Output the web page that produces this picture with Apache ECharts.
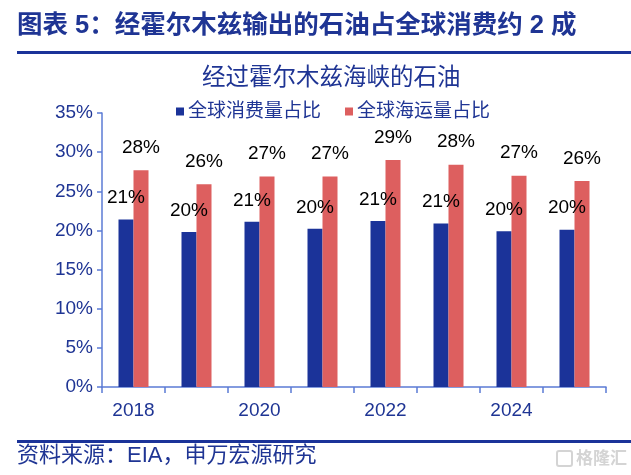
<!DOCTYPE html>
<html>
<head>
<meta charset="utf-8">
<script src="https://cdn.jsdelivr.net/npm/echarts@6/dist/echarts.min.js"></script>
<style>
html,body{margin:0;padding:0;background:#fff;}
#c{width:631px;height:475px;}
</style>
</head>
<body>
<div id="c"></div>
<script>
const categories = ['2018','2019','2020','2021','2022','2023','2024','2025'];
const consumptionShare = [0.214, 0.198, 0.211, 0.202, 0.212, 0.209, 0.199, 0.201];
const seaborneShare = [0.277, 0.259, 0.269, 0.269, 0.290, 0.284, 0.270, 0.263];
const yTicks = [0, 0.05, 0.10, 0.15, 0.20, 0.25, 0.30, 0.35];
const seriesNames = ['全球消费量占比', '全球海运量占比'];

const NAVY = '#1f3594';
const BLUE = '#1b3399';
const RED = '#dd5f5f';
const AXIS = '#5b7bd5';
const FONT = 'Liberation Sans, Arial, "Noto Sans CJK SC", sans-serif';

const chart = echarts.init(document.getElementById('c'));
const pct = v => Math.round(v * 100) + '%';
chart.setOption({
  animation: false,
  textStyle: { fontFamily: FONT },
  title: {
    text: '经过霍尔木兹海峡的石油',
    top: 62,
    left: 197,
    textStyle: { color: NAVY, fontSize: 23.5, fontWeight: 'normal', fontFamily: FONT }
  },
  legend: {
    left: 171, top: 97,
    itemWidth: 8, itemHeight: 8, itemGap: 24,
    icon: 'rect',
    textStyle: { color: NAVY, fontSize: 19, fontFamily: FONT, padding: [0,0,0,-1] },
    data: seriesNames
  },
  grid: { left: 102, right: 25, top: 113, bottom: 88 },
  xAxis: {
    type: 'category',
    data: categories,
    boundaryGap: true,
    axisLine: { lineStyle: { color: AXIS, width: 1.5 } },
    axisTick: { show: true, interval: 0, length: 6, lineStyle: { color: AXIS, width: 1.5 } },
    axisLabel: { interval: 1, color: NAVY, fontSize: 19, margin: 14, fontFamily: FONT }
  },
  yAxis: {
    type: 'value',
    min: 0, max: 0.35, interval: 0.05,
    axisLine: { show: true, lineStyle: { color: AXIS, width: 1.5 } },
    axisTick: { show: true, length: 5, lineStyle: { color: AXIS, width: 1.5 } },
    splitLine: { show: false },
    axisLabel: {
      color: NAVY, fontSize: 19, margin: 9, fontFamily: FONT,
      formatter: v => (yTicks.some(t => Math.abs(t - v) < 1e-9) ? Math.round(v * 100) + '%' : '')
    }
  },
  series: [
    {
      name: seriesNames[0], type: 'bar', data: consumptionShare,
      barWidth: 15, barGap: '0%',
      itemStyle: { color: BLUE },
      label: { show: true, position: 'top', distance: 12, color: '#000', fontSize: 19, fontFamily: FONT, formatter: p => pct(p.value) }
    },
    {
      name: seriesNames[1], type: 'bar', data: seaborneShare,
      barWidth: 15, barGap: '0%',
      itemStyle: { color: RED },
      label: { show: true, position: 'top', distance: 13, color: '#000', fontSize: 19, fontFamily: FONT, formatter: p => pct(p.value) }
    }
  ],
  graphic: [
    { type: 'text', left: 17, top: 13, style: { text: '图表 5：经霍尔木兹输出的石油占全球消费约 2 成', fill: NAVY, font: 'bold 25.5px ' + FONT } },
    { type: 'rect', shape: { x: 17, y: 51, width: 614, height: 3 }, style: { fill: '#1b3399' } },
    { type: 'rect', shape: { x: 17, y: 440, width: 614, height: 3 }, style: { fill: '#1b3399' } },
    { type: 'text', left: 17, top: 445, style: { text: '资料来源：EIA，申万宏源研究', fill: NAVY, font: '22px ' + FONT } },
    { type: 'rect', shape: { x: 557, y: 451, width: 15, height: 15, r: 2 }, style: { fill: 'none', stroke: '#d4d4d4', lineWidth: 2 } },
    { type: 'text', left: 576, top: 449, style: { text: '格隆汇', fill: '#d4d4d4', font: 'bold 17px "Noto Sans CJK SC", sans-serif' } }
  ]
});
</script>
</body>
</html>
